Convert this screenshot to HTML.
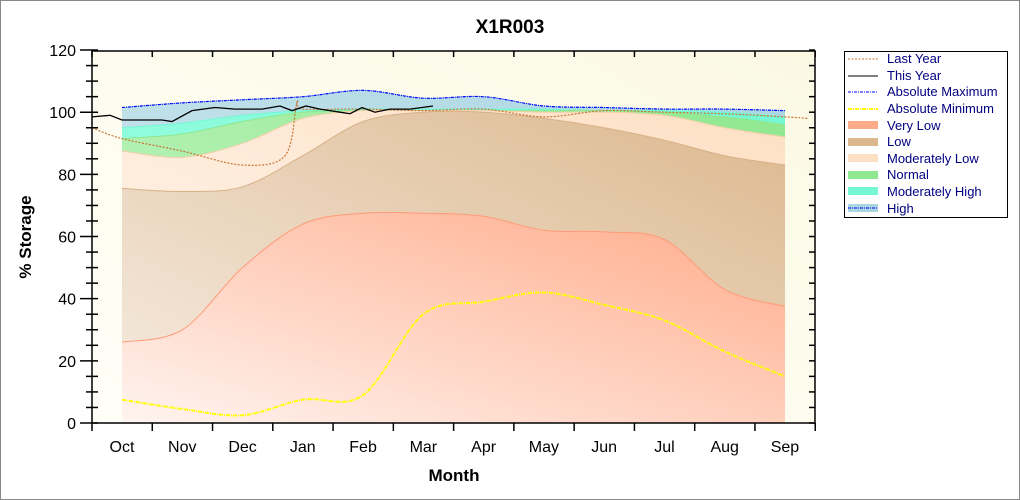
<!DOCTYPE html>
<html><head><meta charset="utf-8"><style>
body{margin:0;background:#fff;}
svg{display:block;font-family:"Liberation Sans",sans-serif;}
</style></head><body>
<svg id="s" width="1020" height="500" viewBox="0 0 1020 500" xmlns="http://www.w3.org/2000/svg">
<defs>
<linearGradient id="bg" x1="0" y1="1" x2="1" y2="0"><stop offset="0" stop-color="#fffff8"/><stop offset="1" stop-color="#fbf9e4"/></linearGradient>
<linearGradient id="gvl" x1="0" y1="1" x2="1" y2="0"><stop offset="0" stop-color="#fff4f0"/><stop offset="1" stop-color="#ffaa88"/></linearGradient>
<linearGradient id="glo" x1="0" y1="1" x2="1" y2="0"><stop offset="0" stop-color="#f6ece2"/><stop offset="1" stop-color="#dcb88e"/></linearGradient>
<linearGradient id="gml" x1="0" y1="1" x2="1" y2="0"><stop offset="0" stop-color="#fff6ee"/><stop offset="1" stop-color="#fde0c4"/></linearGradient>
<linearGradient id="gno" x1="0" y1="1" x2="1" y2="0"><stop offset="0" stop-color="#ccf6cc"/><stop offset="1" stop-color="#8fe88f"/></linearGradient>
<linearGradient id="gmh" x1="0" y1="1" x2="1" y2="0"><stop offset="0" stop-color="#a8ffe6"/><stop offset="1" stop-color="#74f8d4"/></linearGradient>
<linearGradient id="ghi" x1="0" y1="1" x2="1" y2="0"><stop offset="0" stop-color="#d4eaf0"/><stop offset="1" stop-color="#aad6e2"/></linearGradient>
</defs>
<rect x="0.5" y="0.5" width="1019" height="499" fill="#fff" stroke="#888"/>
<text x="510" y="33" font-size="19" font-weight="bold" text-anchor="middle">X1R003</text>
<rect x="92" y="51" width="723" height="372" fill="url(#bg)"/>
<g id="areas"></g>
<g id="lines"></g>
<rect x="92" y="51" width="723" height="372" fill="none" stroke="#000" stroke-width="1.5"/>
<g id="ticks" stroke="#000" stroke-width="1.5"></g>
<g id="lbl" font-size="16"></g>
<text x="454" y="481" font-size="17" font-weight="bold" text-anchor="middle">Month</text>
<text transform="translate(31,237) rotate(-90)" font-size="17" font-weight="bold" text-anchor="middle">% Storage</text>
<g font-size="13" fill="#000080">
<rect x="844.5" y="51.5" width="163" height="166" fill="#fff" stroke="#000"/>
<line x1="848" y1="59" x2="878" y2="59" stroke="#c87533" stroke-dasharray="2,1.5"/><text x="887" y="63">Last Year</text>
<line x1="848" y1="76" x2="878" y2="76" stroke="#000"/><text x="887" y="80">This Year</text>
<line x1="848" y1="92" x2="878" y2="92" stroke="#00f" stroke-dasharray="3,1,1,1"/><text x="887" y="96">Absolute Maximum</text>
<line x1="848" y1="109" x2="878" y2="109" stroke="#ff0" stroke-width="2" stroke-dasharray="4,1,1,1"/><text x="887" y="113">Absolute Minimum</text>
<rect x="848" y="121" width="30" height="8" fill="#ffaa88"/><text x="887" y="130">Very Low</text>
<rect x="848" y="138" width="30" height="8" fill="#dcb88e"/><text x="887" y="146">Low</text>
<rect x="848" y="154" width="30" height="8" fill="#fde0c4"/><text x="887" y="163">Moderately Low</text>
<rect x="848" y="171" width="30" height="8" fill="#8fe88f"/><text x="887" y="179">Normal</text>
<rect x="848" y="187" width="30" height="8" fill="#74f8d4"/><text x="887" y="196">Moderately High</text>
<rect x="848" y="204" width="30" height="8" fill="#aad6e2"/><line x1="848" y1="208" x2="878" y2="208" stroke="#00f" stroke-dasharray="3,1,1,1"/><text x="887" y="213">High</text>
</g>
</svg>
<script>
const X=m=>122+m*60.27, Y=v=>423-v*3.108;
function pts(arr){return arr.map((v,i)=>[X(i),Y(v)]);}
function cr(p){let d="M"+p[0][0]+","+p[0][1];for(let i=0;i<p.length-1;i++){const p0=p[i-1]||p[i],p1=p[i],p2=p[i+1],p3=p[i+2]||p2;
const c1=[p1[0]+(p2[0]-p0[0])/6,p1[1]+(p2[1]-p0[1])/6],c2=[p2[0]-(p3[0]-p1[0])/6,p2[1]-(p3[1]-p1[1])/6];
d+=`C${c1[0].toFixed(1)},${c1[1].toFixed(1)} ${c2[0].toFixed(1)},${c2[1].toFixed(1)} ${p2[0].toFixed(1)},${p2[1].toFixed(1)}`;}return d;}
const hi=[101.5,103,104,105,107,104.5,105,102,101.5,101,101,100.5];
const mh=[95,96.5,99,100.5,101,101,101,101,100.5,100.5,100,98.5];
const no=[91.5,93,97,100,100.5,100.5,100.5,100.5,100.5,100,98.5,96];
const ml=[87.5,85.5,90,98,100.5,100.5,100.5,100,100,99,95,92];
const lo=[75.5,74.5,76,86,97,100,100,98,95,91,86,83];
const vl=[26,30,50,64,67.5,67.5,66.5,62,61.5,59,43,37.5];
const mn=[7.5,4.5,2.5,7.5,9,35,39,42,38,33,23,15];
const A=document.getElementById("areas");let h="";
[[hi,"ghi","#aad6e2"],[mh,"gmh","#74f8d4"],[no,"gno","#8fe88f"],[ml,"gml","#f5cfa8"],[lo,"glo","#d8b088"],[vl,"gvl","#ff9a78"]].forEach(([a,g,c])=>{
const d=cr(pts(a));h+=`<path d="${d}L785,423L122,423Z" fill="url(#${g})"/><path d="${d}" fill="none" stroke="${c}" stroke-width="1"/>`;});
A.innerHTML=h;
const L=document.getElementById("lines");
h=`<path d="${cr(pts(hi))}" fill="none" stroke="#00f" stroke-width="1.2" stroke-dasharray="3,1,1,1"/>`;
h+=`<path d="${cr(pts(mn))}" fill="none" stroke="#ff0" stroke-width="2" stroke-dasharray="4,1,1,1"/>`;
const ly=[[92,95],[X(0),91.5],[X(1),87.5],[X(2),83],[285,86],[297,103],[X(3),101],[X(4),101],[X(5),100.5],[X(6),101],[X(7),98.5],[X(8),100.5],[X(9),100],[X(10),99.5],[X(11),98.5],[808,98]].map(p=>[p[0],Y(p[1])]);
h+=`<path d="${cr(ly)}" fill="none" stroke="#c87533" stroke-width="1.2" stroke-dasharray="2,1.5"/>`;
const ty=[[92,98.5],[110,99],[X(0),97.5],[162,97.5],[172,97],[192,100.5],[215,101.5],[235,101],[262,101],[280,102],[292,100.5],[306,102],[320,101],[340,100],[350,99.5],[362,101.5],[375,100],[390,101],[410,101],[433,102]].map(p=>[p[0],Y(p[1])]);
h+=`<polyline points="${ty.map(p=>p.join(",")).join(" ")}" fill="none" stroke="#000" stroke-width="1.3"/>`;
L.innerHTML=h;
const T=document.getElementById("ticks"),B=document.getElementById("lbl");let t="",b="";
for(let v=0;v<=120;v+=5){const y=Y(v),big=v%20==0;t+=`<line x1="${big?80:86}" y1="${y}" x2="98" y2="${y}"/><line x1="809" y1="${y}" x2="815" y2="${y}"/>`;
if(big)b+=`<text x="76" y="${y+6}" text-anchor="end">${v}</text>`;}
const mo=["Oct","Nov","Dec","Jan","Feb","Mar","Apr","May","Jun","Jul","Aug","Sep"];
for(let i=0;i<=12;i++){const x=92+(i)*60.27;t+=`<line x1="${x}" y1="423" x2="${x}" y2="431"/><line x1="${x}" y1="51" x2="${x}" y2="57"/>`;}
mo.forEach((m,i)=>b+=`<text x="${X(i)}" y="452" text-anchor="middle">${m}</text>`);
T.innerHTML=t;B.innerHTML=b;
</script>
</body></html>
